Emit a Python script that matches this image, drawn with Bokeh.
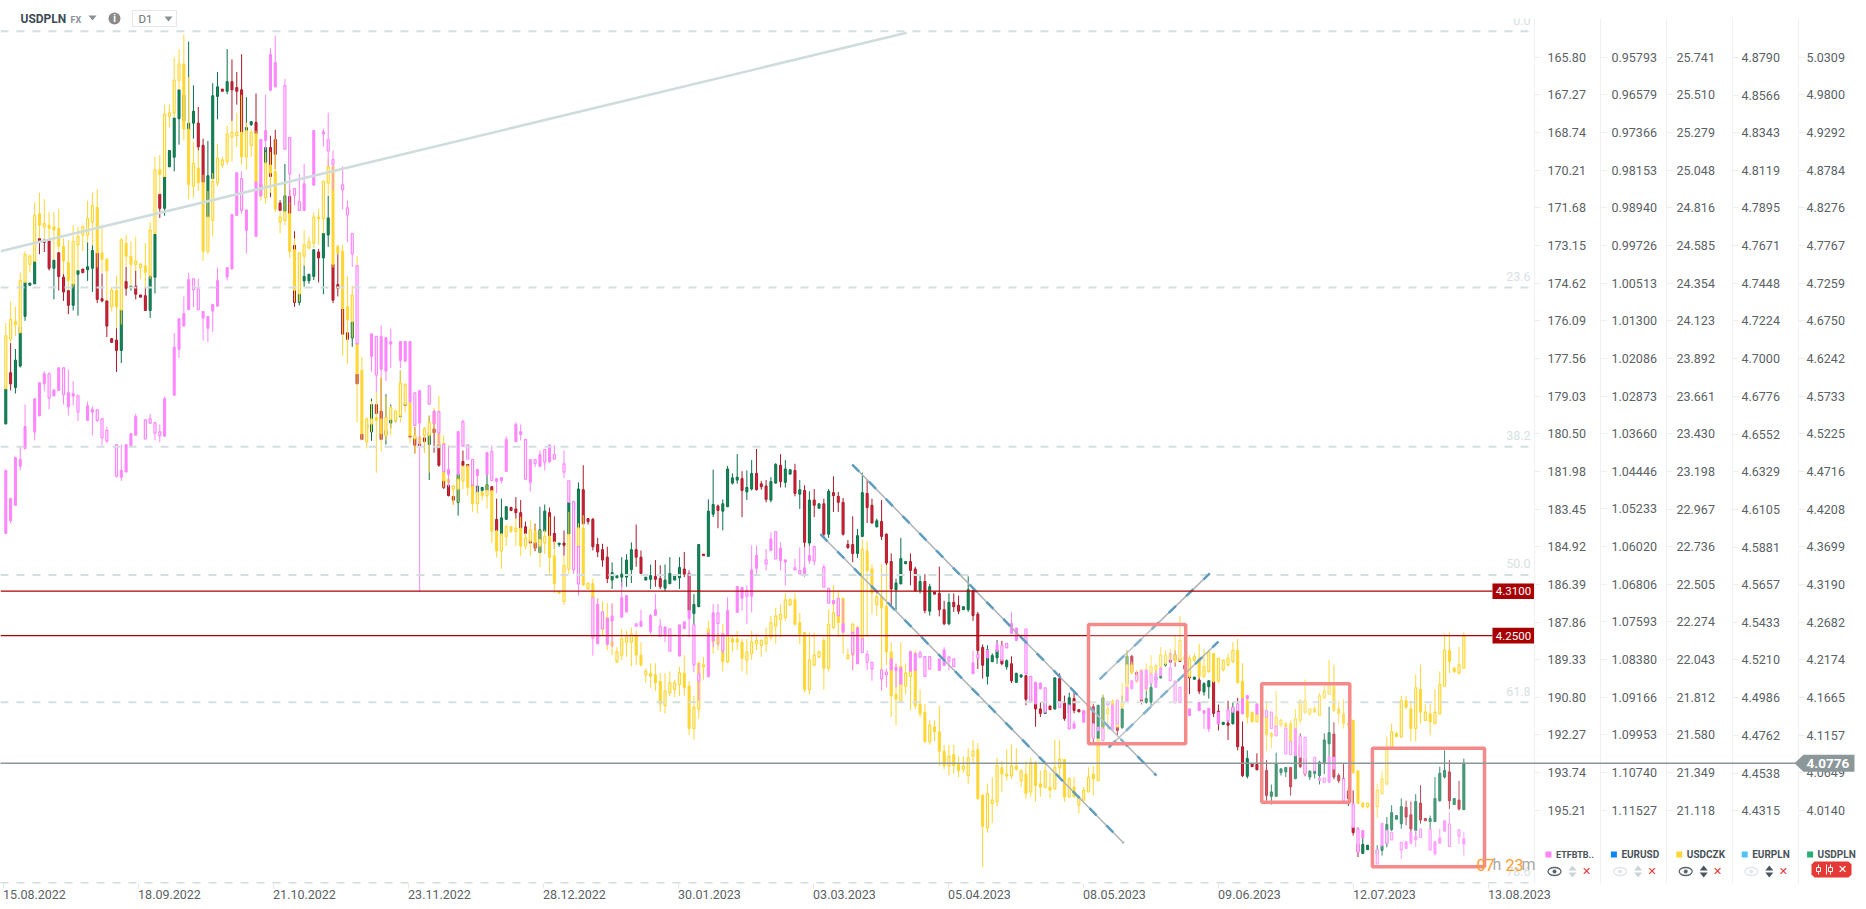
from bokeh.plotting import figure
from bokeh.embed import file_html
from bokeh.resources import INLINE
from bokeh.models import Range1d, LinearAxis, FixedTicker, NumeralTickFormatter
from bokeh.core.properties import value

etf_ticks=[165.80,167.27,168.74,170.21,171.68,173.15,174.62,176.09,177.56,179.03,180.50,181.98,183.45,184.92,186.39,187.86,189.33,190.80,192.27,193.74,195.21]
eurusd_ticks=[0.95793,0.96579,0.97366,0.98153,0.98940,0.99726,1.00513,1.01300,1.02086,1.02873,1.03660,1.04446,1.05233,1.06020,1.06806,1.07593,1.08380,1.09166,1.09953,1.10740,1.11527]
czk_ticks=[25.741,25.510,25.279,25.048,24.816,24.585,24.354,24.123,23.892,23.661,23.430,23.198,22.967,22.736,22.505,22.274,22.043,21.812,21.580,21.349,21.118]
eurpln_ticks=[4.8790,4.8566,4.8343,4.8119,4.7895,4.7671,4.7448,4.7224,4.7000,4.6776,4.6552,4.6329,4.6105,4.5881,4.5657,4.5433,4.5210,4.4986,4.4762,4.4538,4.4315]
usdpln_ticks=[5.0309,4.9800,4.9292,4.8784,4.8276,4.7767,4.7259,4.6750,4.6242,4.5733,4.5225,4.4716,4.4208,4.3699,4.3190,4.2682,4.2174,4.1665,4.1157,4.0649,4.0140]
date_labels=["15.08.2022","18.09.2022","21.10.2022","23.11.2022","28.12.2022","30.01.2023","03.03.2023","05.04.2023","08.05.2023","09.06.2023","12.07.2023","13.08.2023"]

# open, high, low, close, per daily candle
usdpln_rows=[
(4.536,4.590,4.535,4.583),(4.605,4.645,4.581,4.590),(4.585,4.637,4.577,4.622),(4.614,4.669,4.612,4.667),(4.681,4.729,4.675,4.727),(4.723,4.726,4.723,4.726),(4.725,4.755,4.725,4.755),(4.786,4.786,4.765,4.781),(4.784,4.786,4.768,4.781),(4.783,4.783,4.743,4.746),
(4.746,4.757,4.704,4.757),(4.767,4.767,4.716,4.735),(4.734,4.738,4.702,4.714),(4.716,4.716,4.684,4.696),(4.696,4.725,4.689,4.725),(4.738,4.743,4.682,4.743),(4.745,4.745,4.740,4.740),(4.744,4.781,4.729,4.748),(4.746,4.777,4.714,4.770),(4.767,4.767,4.699,4.704),
(4.705,4.739,4.700,4.702),(4.702,4.702,4.653,4.668),(4.651,4.651,4.646,4.646),(4.649,4.665,4.606,4.635),(4.635,4.690,4.618,4.690),(4.728,4.748,4.709,4.719),(4.720,4.722,4.716,4.722),(4.722,4.743,4.704,4.711),(4.710,4.710,4.707,4.707),(4.709,4.721,4.689,4.689),
(4.689,4.735,4.679,4.735),(4.734,4.792,4.712,4.792),(4.846,4.846,4.814,4.827),(4.827,4.869,4.817,4.869),(4.883,4.905,4.883,4.905),(4.896,4.949,4.877,4.949),(4.948,4.987,4.913,4.987),(4.945,4.985,4.940,4.980),(4.933,5.052,4.919,4.942),(4.942,4.993,4.921,4.958),
(4.942,4.964,4.905,4.910),(4.912,4.921,4.860,4.862),(4.815,4.918,4.815,4.871),(4.867,4.996,4.867,4.979),(4.978,5.011,4.947,4.991),(4.988,4.988,4.985,4.985),(4.985,5.042,4.981,4.998),(4.998,5.028,4.945,4.987),(4.990,5.011,4.967,4.985),(4.987,5.035,4.930,4.930),
(4.931,4.977,4.931,4.936),(4.940,4.944,4.938,4.944),(4.943,4.982,4.928,4.928),(4.859,4.859,4.855,4.856),(4.889,4.909,4.889,4.909),(4.909,4.925,4.842,4.870),(4.920,4.933,4.880,4.900),(4.834,4.838,4.824,4.824),(4.823,4.887,4.823,4.844),(4.843,4.852,4.820,4.820),
(4.777,4.796,4.694,4.700),(4.700,4.711,4.696,4.711),(4.729,4.750,4.721,4.735),(4.729,4.737,4.725,4.738),(4.735,4.771,4.730,4.771),(4.768,4.772,4.727,4.760),(4.760,4.793,4.711,4.793),(4.791,4.844,4.775,4.814),(4.752,4.752,4.699,4.703),(4.724,4.774,4.708,4.719),
(4.691,4.691,4.657,4.657),(4.659,4.659,4.650,4.650),(4.652,4.674,4.640,4.674),(4.603,4.603,4.590,4.590),(4.522,4.522,4.515,4.515),(4.530,4.540,4.525,4.535),(4.525,4.570,4.513,4.562),(4.562,4.562,4.550,4.550),(4.553,4.598,4.515,4.515),(4.521,4.576,4.508,4.527),
(4.537,4.562,4.530,4.541),(4.540,4.548,4.538,4.545),(4.546,4.608,4.545,4.547),(4.563,4.589,4.561,4.561),(4.520,4.520,4.518,4.518),(4.518,4.532,4.496,4.507),(4.509,4.509,4.506,4.506),(4.517,4.529,4.498,4.512),(4.508,4.547,4.460,4.524),(4.529,4.554,4.497,4.524),
(4.508,4.510,4.478,4.480),(4.460,4.460,4.448,4.450),(4.453,4.456,4.438,4.439),(4.438,4.438,4.427,4.433),(4.430,4.468,4.412,4.468),(4.485,4.500,4.478,4.480),(4.481,4.481,4.478,4.478),(4.454,4.454,4.451,4.451),(4.443,4.452,4.441,4.452),(4.446,4.451,4.443,4.450),
(4.446,4.468,4.446,4.454),(4.451,4.452,4.445,4.445),(4.407,4.435,4.392,4.392),(4.388,4.435,4.388,4.409),(4.407,4.425,4.407,4.424),(4.423,4.424,4.418,4.419),(4.421,4.437,4.408,4.416),(4.416,4.433,4.395,4.395),(4.397,4.404,4.383,4.388),(4.379,4.379,4.375,4.375),
(4.376,4.401,4.364,4.368),(4.362,4.424,4.362,4.393),(4.391,4.427,4.391,4.418),(4.416,4.423,4.385,4.385),(4.388,4.411,4.367,4.377),(4.373,4.375,4.370,4.375),(4.375,4.392,4.358,4.372),(4.387,4.430,4.387,4.430),(4.420,4.432,4.410,4.430),(4.396,4.457,4.396,4.448),
(4.447,4.480,4.401,4.401),(4.408,4.408,4.400,4.404),(4.407,4.409,4.365,4.370),(4.373,4.382,4.356,4.363),(4.366,4.374,4.343,4.352),(4.356,4.370,4.321,4.327),(4.325,4.349,4.313,4.335),(4.328,4.331,4.328,4.331),(4.329,4.356,4.316,4.333),(4.329,4.360,4.316,4.352),
(4.339,4.376,4.321,4.366),(4.366,4.400,4.343,4.356),(4.356,4.365,4.334,4.334),(4.325,4.329,4.325,4.329),(4.326,4.346,4.313,4.331),(4.330,4.352,4.316,4.326),(4.327,4.345,4.313,4.316),(4.314,4.346,4.310,4.325),(4.320,4.356,4.320,4.334),(4.325,4.331,4.325,4.331),
(4.328,4.356,4.313,4.342),(4.340,4.363,4.329,4.333),(4.334,4.338,4.284,4.284),(4.280,4.306,4.264,4.292),(4.289,4.373,4.289,4.373),(4.360,4.360,4.358,4.358),(4.357,4.434,4.357,4.418),(4.414,4.474,4.410,4.427),(4.425,4.427,4.395,4.419),(4.418,4.434,4.392,4.428),
(4.424,4.479,4.424,4.475),(4.456,4.469,4.454,4.463),(4.460,4.495,4.455,4.464),(4.462,4.472,4.410,4.446),(4.444,4.473,4.433,4.450),(4.448,4.487,4.446,4.469),(4.469,4.502,4.446,4.447),(4.455,4.459,4.447,4.451),(4.452,4.460,4.430,4.434),(4.433,4.464,4.430,4.458),
(4.456,4.483,4.455,4.481),(4.480,4.495,4.450,4.458),(4.457,4.487,4.450,4.475),(4.468,4.474,4.468,4.474),(4.473,4.482,4.438,4.442),(4.441,4.460,4.421,4.447),(4.446,4.453,4.369,4.376),(4.375,4.445,4.370,4.433),(4.433,4.448,4.410,4.426),(4.422,4.428,4.422,4.428),
(4.428,4.435,4.383,4.387),(4.387,4.448,4.382,4.445),(4.443,4.465,4.417,4.439),(4.438,4.444,4.417,4.430),(4.430,4.436,4.385,4.387),(4.373,4.379,4.367,4.369),(4.373,4.411,4.349,4.361),(4.361,4.394,4.355,4.385),(4.384,4.470,4.383,4.443),(4.442,4.461,4.402,4.423),
(4.426,4.435,4.402,4.402),(4.397,4.408,4.396,4.405),(4.404,4.433,4.379,4.384),(4.387,4.388,4.345,4.348),(4.350,4.361,4.289,4.313),(4.312,4.327,4.284,4.321),(4.320,4.382,4.319,4.354),(4.347,4.350,4.347,4.350),(4.350,4.361,4.318,4.338),(4.340,4.343,4.309,4.311),
(4.311,4.331,4.307,4.323),(4.323,4.333,4.280,4.284),(4.283,4.320,4.277,4.316),(4.309,4.309,4.306,4.306),(4.307,4.343,4.276,4.285),(4.285,4.297,4.264,4.266),(4.266,4.307,4.264,4.295),(4.295,4.307,4.282,4.289),(4.291,4.304,4.279,4.283),(4.285,4.289,4.285,4.289),
(4.285,4.330,4.282,4.312),(4.311,4.312,4.270,4.277),(4.279,4.282,4.205,4.230),(4.234,4.238,4.192,4.210),(4.195,4.237,4.184,4.231),(4.215,4.226,4.214,4.223),(4.220,4.244,4.212,4.231),(4.218,4.243,4.210,4.212),(4.208,4.218,4.204,4.216),(4.212,4.222,4.186,4.189),
(4.187,4.200,4.186,4.199),(4.194,4.197,4.194,4.197),(4.196,4.196,4.156,4.164),(4.164,4.166,4.162,4.163),(4.182,4.182,4.127,4.151),(4.151,4.160,4.140,4.145),(4.145,4.160,4.145,4.160),(4.155,4.155,4.150,4.150),(4.151,4.193,4.150,4.193),(4.192,4.199,4.154,4.154),
(4.159,4.169,4.135,4.138),(4.145,4.173,4.144,4.166),(4.165,4.174,4.145,4.149),(4.150,4.150,4.147,4.147),(4.147,4.147,4.145,4.145),(4.146,4.147,4.146,4.147),(4.154,4.158,4.106,4.113),(4.111,4.156,4.111,4.156),(4.126,4.170,4.118,4.166),(4.160,4.160,4.157,4.157),
(4.156,4.158,4.156,4.158),(4.158,4.163,4.115,4.122),(4.126,4.169,4.124,4.151),(4.185,4.230,4.180,4.222),(4.222,4.224,4.199,4.201),(4.200,4.202,4.187,4.189),(4.203,4.203,4.157,4.160),(4.160,4.203,4.158,4.165),(4.160,4.196,4.153,4.180),(4.190,4.210,4.188,4.194),
(4.193,4.203,4.192,4.195),(4.210,4.221,4.208,4.214),(4.217,4.217,4.214,4.214),(4.224,4.230,4.208,4.217),(4.220,4.222,4.215,4.215),(4.210,4.212,4.205,4.205),(4.196,4.198,4.171,4.193),(4.191,4.194,4.191,4.194),(4.190,4.194,4.171,4.175),(4.174,4.187,4.169,4.185),
(4.181,4.190,4.165,4.189),(4.188,4.188,4.140,4.145),(4.148,4.157,4.122,4.131),(4.130,4.133,4.130,4.133),(4.132,4.162,4.109,4.129),(4.131,4.160,4.130,4.153),(4.148,4.166,4.095,4.100),(4.100,4.134,4.059,4.061),(4.060,4.095,4.057,4.084),(4.077,4.077,4.073,4.073),
(4.076,4.091,4.068,4.069),(4.070,4.070,4.069,4.069),(4.068,4.082,4.027,4.034),(4.033,4.049,4.022,4.039),(4.033,4.092,4.033,4.077),(4.065,4.071,4.061,4.070),(4.066,4.072,4.059,4.072),(4.072,4.072,4.034,4.046),(4.057,4.118,4.056,4.093),(4.102,4.118,4.071,4.073),
(4.084,4.087,4.060,4.063),(4.059,4.068,4.055,4.067),(4.064,4.068,4.057,4.067),(4.061,4.081,4.049,4.079),(4.077,4.118,4.063,4.109),(4.104,4.154,4.070,4.119),(4.117,4.133,4.056,4.059),(4.061,4.064,4.051,4.054),(4.057,4.078,4.045,4.052),(4.040,4.045,4.020,4.030),
(3.992,4.041,3.980,3.984),(3.969,3.991,3.951,3.958),(3.956,3.980,3.955,3.968),(3.961,3.967,3.961,3.967),(3.960,3.965,3.960,3.965),(3.955,3.967,3.953,3.961),(3.960,3.969,3.953,3.967),(3.969,4.005,3.964,3.995),(3.988,4.021,3.986,4.011),(4.002,4.007,4.002,4.007),
(3.996,4.030,3.989,4.019),(4.018,4.027,3.994,4.005),(4.008,4.026,3.982,3.989),(3.987,4.036,3.976,4.026),(4.024,4.048,3.996,4.001),(4.003,4.003,4.000,4.000),(3.999,4.007,3.989,4.003),(3.999,4.059,3.998,4.030),(4.027,4.073,4.026,4.064),(4.059,4.095,4.057,4.068),
(4.066,4.082,4.016,4.027),(4.022,4.030,4.022,4.030),(4.028,4.054,4.014,4.016),(4.015,4.084,4.015,4.078),
]
usdczk_rows=[
(23.71,24.11,23.70,24.03),(24.01,24.24,23.99,24.13),(24.12,24.21,24.03,24.10),(24.05,24.42,24.05,24.37),(24.36,24.55,24.36,24.53),(24.47,24.53,24.42,24.52),(24.49,24.85,24.49,24.77),(24.78,24.91,24.63,24.71),(24.70,24.87,24.63,24.72),(24.71,24.79,24.62,24.69),
(24.70,24.79,24.50,24.68),(24.69,24.81,24.55,24.58),(24.58,24.63,24.41,24.49),(24.48,24.62,24.31,24.37),(24.35,24.71,24.33,24.61),(24.59,24.70,24.43,24.64),(24.65,24.71,24.55,24.70),(24.65,24.86,24.61,24.75),(24.73,24.91,24.59,24.83),(24.82,24.93,24.45,24.54),
(24.54,24.71,24.42,24.50),(24.50,24.51,24.25,24.43),(24.21,24.33,24.18,24.31),(24.31,24.40,24.08,24.21),(24.19,24.63,24.10,24.62),(24.60,24.65,24.46,24.52),(24.52,24.61,24.34,24.47),(24.47,24.64,24.43,24.49),(24.45,24.48,24.38,24.47),(24.46,24.60,24.33,24.42),
(24.40,24.73,24.38,24.68),(24.66,25.13,24.66,25.05),(25.05,25.14,24.90,25.02),(25.01,25.45,25.01,25.39),(25.38,25.45,25.31,25.40),(25.40,25.74,25.37,25.60),(25.60,25.79,25.54,25.70),(25.70,25.88,25.23,25.30),(25.30,25.62,24.87,24.96),(24.95,25.22,24.88,25.09),
(25.06,25.17,24.92,24.97),(24.97,25.02,24.49,24.55),(24.55,24.92,24.53,24.76),(24.74,25.03,24.64,24.98),(24.97,25.21,24.95,25.12),(25.08,25.13,25.06,25.11),(25.10,25.32,25.08,25.27),(25.25,25.35,25.10,25.28),(25.26,25.40,25.19,25.28),(25.28,25.51,25.08,25.13),
(25.13,25.34,25.05,25.29),(25.20,25.30,25.13,25.28),(25.27,25.29,24.93,24.97),(24.96,24.96,24.86,24.89),(24.88,25.16,24.84,25.09),(25.08,25.16,24.91,25.03),(25.04,25.24,24.79,24.81),(24.73,24.80,24.66,24.76),(24.74,24.96,24.71,24.79),(24.78,24.85,24.51,24.55),
(24.56,24.63,24.24,24.31),(24.29,24.54,24.24,24.54),(24.52,24.68,24.46,24.59),(24.57,24.64,24.56,24.61),(24.60,24.79,24.57,24.76),(24.76,24.81,24.59,24.75),(24.75,24.98,24.66,24.98),(24.97,25.12,24.90,25.07),(25.07,25.08,24.45,24.47),(24.58,24.59,24.53,24.54),
(24.55,24.59,23.91,24.20),(24.21,24.40,23.86,24.13),(24.12,24.34,24.02,24.28),(23.99,24.52,23.50,23.80),(23.82,23.90,23.39,23.43),(23.38,23.53,23.34,23.52),(23.49,23.63,23.44,23.52),(23.53,23.69,23.19,23.51),(23.52,23.78,23.32,23.43),(23.42,23.66,23.39,23.53),
(23.52,23.60,23.42,23.59),(23.51,23.57,23.50,23.57),(23.54,23.82,23.50,23.74),(23.61,23.74,23.56,23.73),(23.62,23.62,23.37,23.42),(23.40,23.47,23.31,23.42),(23.41,23.42,23.35,23.37),(23.42,23.47,23.31,23.46),(23.42,23.54,23.19,23.50),(23.56,23.59,23.43,23.49),
(23.43,23.66,23.34,23.36),(23.37,23.42,23.10,23.14),(23.15,23.36,23.11,23.13),(23.09,23.11,22.99,23.11),(23.09,23.18,23.01,23.15),(23.14,23.23,23.09,23.23),(23.23,23.24,23.05,23.10),(23.11,23.12,22.95,23.00),(23.00,23.10,22.94,23.07),(23.07,23.08,23.02,23.05),
(23.05,23.12,22.97,23.08),(23.08,23.08,22.76,22.83),(22.83,22.84,22.67,22.71),(22.71,22.82,22.60,22.81),(22.80,22.87,22.74,22.86),(22.86,22.86,22.82,22.83),(22.83,22.91,22.74,22.85),(22.85,22.92,22.68,22.74),(22.74,22.82,22.72,22.79),(22.77,22.90,22.68,22.84),
(22.83,22.87,22.72,22.76),(22.74,22.84,22.61,22.78),(22.76,22.84,22.69,22.80),(22.80,22.92,22.57,22.67),(22.68,22.77,22.45,22.51),(22.46,22.46,22.45,22.45),(22.40,22.68,22.38,22.62),(22.60,22.95,22.57,22.81),(22.74,22.92,22.58,22.85),(22.73,22.88,22.73,22.85),
(22.85,22.93,22.50,22.50),(22.48,22.52,22.47,22.51),(22.51,22.54,22.42,22.42),(22.38,22.42,22.22,22.24),(22.23,22.40,22.19,22.33),(22.30,22.39,22.10,22.14),(22.13,22.39,22.07,22.15),(22.03,22.12,22.02,22.09),(22.07,22.23,22.04,22.17),(22.15,22.22,22.06,22.18),
(22.15,22.24,22.00,22.20),(22.19,22.22,22.01,22.07),(22.07,22.15,22.00,22.01),(21.95,21.99,21.90,21.97),(21.96,22.02,21.87,21.94),(21.95,22.02,21.85,21.90),(21.91,21.96,21.72,21.77),(21.76,21.96,21.71,21.85),(21.84,21.97,21.82,21.90),(21.86,21.92,21.81,21.90),
(21.89,22.00,21.82,21.96),(21.96,22.07,21.82,21.87),(21.88,21.91,21.58,21.62),(21.62,21.82,21.55,21.75),(21.74,22.03,21.68,22.02),(22.00,22.06,21.92,22.01),(22.21,22.28,22.13,22.23),(22.17,22.22,22.08,22.15),(22.14,22.21,22.10,22.18),(22.19,22.26,21.97,22.03),
(22.03,22.26,22.02,22.19),(22.17,22.19,22.09,22.15),(22.17,22.22,22.10,22.15),(22.15,22.17,21.97,22.05),(22.04,22.17,21.95,22.09),(22.08,22.22,22.04,22.15),(22.14,22.20,22.10,22.16),(22.13,22.17,22.06,22.16),(22.14,22.24,22.09,22.18),(22.18,22.31,22.16,22.27),
(22.25,22.36,22.14,22.31),(22.29,22.38,22.18,22.32),(22.30,22.45,22.28,22.41),(22.38,22.42,22.37,22.41),(22.41,22.45,22.25,22.26),(22.27,22.33,22.14,22.20),(22.21,22.21,21.84,21.86),(21.86,22.21,21.83,22.04),(22.01,22.21,22.00,22.07),(22.06,22.10,22.05,22.09),
(22.16,22.18,21.86,21.99),(21.99,22.35,21.97,22.26),(22.24,22.50,22.23,22.33),(22.42,22.47,22.18,22.27),(22.42,22.42,22.08,22.22),(22.05,22.11,22.04,22.07),(22.07,22.27,21.98,22.26),(22.08,22.25,22.06,22.24),(22.17,22.78,22.17,22.72),(22.71,22.77,22.18,22.59),
(22.60,22.63,22.32,22.45),(22.38,22.47,22.31,22.43),(22.43,22.63,21.85,22.36),(22.37,22.62,22.01,22.09),(22.09,22.15,21.69,21.82),(21.83,22.02,21.64,21.80),(21.79,22.15,21.79,22.00),(21.88,22.02,21.83,21.96),(21.94,22.10,21.73,21.98),(21.99,22.10,21.74,21.76),
(21.77,21.86,21.69,21.71),(21.72,21.77,21.53,21.54),(21.54,21.67,21.52,21.64),(21.63,21.67,21.54,21.60),(21.60,21.76,21.39,21.48),(21.48,21.52,21.37,21.39),(21.39,21.52,21.33,21.45),(21.46,21.52,21.34,21.39),(21.40,21.45,21.32,21.36),(21.37,21.45,21.35,21.39),
(21.33,21.50,21.28,21.44),(21.45,21.55,21.40,21.48),(21.49,21.53,21.18,21.19),(21.21,21.22,20.77,21.02),(21.01,21.28,20.98,21.22),(21.16,21.32,21.04,21.18),(21.17,21.44,21.14,21.39),(21.38,21.42,21.23,21.34),(21.33,21.49,21.30,21.34),(21.33,21.52,21.31,21.39),
(21.39,21.50,21.36,21.37),(21.30,21.37,21.26,21.36),(21.34,21.42,21.19,21.22),(21.23,21.44,21.20,21.41),(21.41,21.42,21.17,21.27),(21.28,21.36,21.20,21.26),(21.26,21.40,21.25,21.36),(21.26,21.35,21.19,21.24),(21.25,21.55,21.24,21.38),(21.38,21.55,21.32,21.43),
(21.43,21.43,21.17,21.20),(21.20,21.32,21.20,21.31),(21.26,21.32,21.20,21.20),(21.15,21.21,21.10,21.20),(21.18,21.26,21.18,21.24),(21.23,21.38,21.23,21.32),(21.34,21.39,21.21,21.31),(21.30,21.56,21.30,21.55),(21.55,21.83,21.54,21.62),(21.71,21.79,21.61,21.74),
(21.79,21.80,21.73,21.74),(21.63,21.80,21.63,21.75),(21.75,21.90,21.74,21.78),(21.79,22.10,21.78,22.01),(22.01,22.03,21.95,21.96),(21.91,21.98,21.90,21.95),(21.98,21.98,21.80,21.80),(21.86,22.02,21.85,21.95),(21.96,22.07,21.95,22.00),(21.98,22.02,21.96,22.00),
(22.00,22.12,21.99,22.07),(22.02,22.10,22.01,22.07),(22.05,22.11,22.04,22.08),(22.07,22.19,22.02,22.03),(22.04,22.31,22.04,22.16),(22.06,22.08,22.04,22.04),(21.94,22.07,21.93,22.05),(22.04,22.08,22.03,22.06),(22.05,22.14,21.93,21.94),(21.94,22.11,21.93,22.00),
(21.97,22.10,21.96,22.09),(22.08,22.08,21.90,21.91),(21.91,22.05,21.90,22.05),(21.98,22.04,21.97,22.04),(22.01,22.08,22.00,22.05),(22.03,22.15,22.02,22.10),(22.10,22.17,21.90,21.90),(21.91,22.02,21.80,21.80),(21.79,21.81,21.65,21.69),(21.72,21.72,21.66,21.66),
(21.66,21.78,21.66,21.71),(21.70,21.78,21.62,21.74),(21.73,21.79,21.48,21.58),(21.59,21.60,21.50,21.57),(21.58,21.85,21.57,21.69),(21.64,21.68,21.63,21.67),(21.65,21.66,21.63,21.63),(21.65,21.67,21.53,21.54),(21.50,21.74,21.50,21.68),(21.67,21.80,21.65,21.79),
(21.72,21.92,21.71,21.79),(21.71,21.74,21.70,21.74),(21.74,21.76,21.72,21.72),(21.70,21.84,21.70,21.82),(21.81,21.88,21.80,21.85),(21.83,22.04,21.83,21.90),(21.88,22.01,21.72,21.73),(21.74,21.79,21.65,21.71),(21.71,21.80,21.62,21.65),(21.65,21.66,21.63,21.64),
(21.67,21.67,21.34,21.35),(21.36,21.36,21.16,21.16),(21.16,21.17,21.13,21.14),(21.14,21.16,21.13,21.16),(21.13,21.15,21.12,21.15),(21.14,21.28,21.07,21.24),(21.22,21.36,21.22,21.31),(21.28,21.57,21.27,21.49),(21.50,21.65,21.49,21.60),(21.59,21.60,21.57,21.57),
(21.57,21.82,21.56,21.79),(21.79,21.82,21.74,21.75),(21.74,21.79,21.54,21.62),(21.62,21.95,21.54,21.87),(21.86,22.01,21.65,21.72),(21.67,21.77,21.67,21.72),(21.71,21.77,21.58,21.66),(21.65,21.86,21.65,21.72),(21.71,21.97,21.71,21.89),(21.88,22.20,21.88,22.10),
(22.10,22.21,21.96,22.03),(21.99,22.00,21.96,21.97),(21.96,22.12,21.95,22.01),(21.99,22.21,21.99,22.19),
]
N_=None
etfbtb_rows=[
(184.40,184.40,181.90,181.94),(183.90,184.00,183.00,183.04),(183.30,183.30,181.40,181.44),(181.77,181.94,181.03,181.50),(181.09,181.09,179.36,180.22),N_,(180.44,180.76,179.14,179.14),(179.81,179.81,178.51,178.51),(178.55,178.84,178.06,178.16),(178.16,179.55,178.10,179.11),
(179.03,179.03,178.79,178.79),(178.81,178.81,177.93,177.93),(177.93,179.36,177.93,178.98),(179.46,179.79,178.00,178.90),(179.03,179.40,178.45,178.94),(179.02,180.01,178.97,179.66),N_,(179.98,179.98,179.24,179.41),(179.66,180.57,179.44,179.55),(179.57,180.05,179.57,179.98),
(179.92,180.96,179.89,180.66),(180.37,180.87,180.24,180.79),N_,(180.93,182.22,180.93,182.16),(182.20,182.35,180.93,181.94),(182.00,182.00,180.93,180.93),(181.00,181.00,180.47,180.50),(180.56,180.56,179.72,179.83),N_,(179.96,180.71,179.96,180.71),
(179.92,180.11,179.72,180.09),(180.07,180.76,180.05,180.48),(180.43,180.83,180.14,180.58),(180.60,180.60,179.05,179.14),N_,(179.00,179.00,176.57,177.12),(177.21,177.55,176.01,176.01),(176.30,176.30,175.14,175.82),(175.66,175.66,174.22,174.49),(174.45,175.56,174.45,174.88),
(174.84,175.66,174.45,175.66),(175.99,176.86,175.73,175.73),(176.38,176.92,175.92,175.92),(175.71,176.53,175.45,175.45),(175.52,175.52,174.02,174.52),N_,(174.38,174.52,174.02,174.02),(174.07,174.07,171.94,171.94),(171.98,171.98,170.31,170.31),(170.54,171.91,170.26,171.78),
(172.56,173.45,171.76,171.76),N_,(172.80,172.80,170.67,170.67),(171.22,171.22,169.01,169.01),(169.05,169.44,167.25,168.66),(167.09,167.09,165.43,165.69),(166.96,166.96,164.95,166.00),N_,(166.91,169.39,166.64,169.39),(168.94,171.52,168.94,170.35),
(170.93,171.59,170.93,171.18),(171.44,171.78,170.35,171.78),(171.78,171.78,169.96,170.74),N_,(170.80,170.80,168.66,168.66),N_,(168.80,169.28,168.59,168.71),(169.02,170.06,167.97,169.46),(169.80,171.00,169.44,169.98),N_,
(170.78,171.74,170.06,170.97),(171.68,173.02,171.39,171.96),(172.69,173.99,172.69,173.47),(173.94,176.99,173.94,176.99),N_,N_,(177.48,178.07,176.60,176.60),(176.70,178.88,176.70,178.21),(177.99,178.29,176.27,176.70),(178.06,178.45,176.75,176.75),
(177.00,177.94,176.40,176.91),N_,(177.64,177.94,176.90,176.90),(177.67,177.67,176.90,176.90),(179.27,179.27,176.90,176.90),(178.91,180.18,178.91,180.18),(180.09,186.69,178.82,178.82),N_,(178.63,179.35,178.63,179.35),(180.12,180.12,179.62,179.62),
(179.64,180.94,179.64,180.47),(180.92,181.98,180.92,181.98),(182.10,182.59,180.99,181.90),N_,(182.10,182.10,180.42,180.42),(180.03,181.00,179.96,180.99),(180.94,181.50,180.94,181.50),(181.51,182.50,181.51,182.50),(182.14,182.79,181.90,181.90),N_,
(182.10,182.10,181.24,181.24),(181.20,182.33,180.96,182.33),(182.37,182.83,182.25,182.25),(182.33,182.44,182.21,182.21),(181.98,181.98,180.61,180.73),N_,(180.81,180.81,180.05,180.14),(180.53,180.77,180.14,180.42),(180.73,182.28,180.70,182.28),(182.40,182.76,181.51,181.51),
(181.51,181.81,181.51,181.67),(181.78,181.78,181.16,181.32),(181.12,181.94,181.12,181.61),(181.61,181.61,180.94,180.94),(181.32,181.50,180.96,181.50),N_,(181.68,182.24,181.16,182.00),(182.34,183.18,182.34,183.18),(183.16,185.98,183.16,185.81),(184.91,186.82,184.91,186.37),
N_,N_,(186.91,189.17,186.91,188.48),(188.71,188.71,186.95,187.17),(187.46,188.12,187.46,188.12),(188.74,188.74,187.71,187.71),(187.82,188.84,187.15,187.62),N_,(187.67,187.67,186.30,186.91),(187.47,187.47,186.82,186.82),
N_,(187.93,188.02,187.93,188.02),(188.03,188.03,187.38,187.84),N_,(188.22,188.32,187.54,187.60),(187.60,187.60,186.76,187.38),(188.02,188.41,187.73,188.41),(188.39,188.65,188.05,188.05),(188.12,189.00,188.12,189.00),N_,
(189.19,189.19,187.97,187.97),(188.12,188.12,187.85,187.85),(187.73,188.45,185.85,187.41),(187.97,189.82,187.97,189.53),(189.88,190.93,189.49,190.17),N_,(190.00,190.00,188.30,188.30),(188.58,188.84,187.15,187.50),(187.50,188.78,187.15,187.91),(188.32,189.10,188.32,188.97),
(188.36,188.36,186.89,187.41),N_,(187.48,187.48,186.47,186.47),(186.93,187.41,186.50,186.50),(186.63,187.93,186.43,186.85),(186.85,187.48,184.87,185.82),(185.76,185.98,184.87,185.26),N_,(185.43,185.85,185.00,185.59),(185.07,185.07,184.35,184.61),
(184.33,185.39,184.33,185.39),(185.46,185.85,184.74,184.98),(185.52,186.43,185.43,185.43),N_,(185.74,185.82,185.39,185.82),(185.85,185.98,184.94,185.98),(185.98,186.11,184.94,185.74),(185.46,185.59,184.87,185.26),(184.91,185.65,184.87,185.48),N_,
(185.72,186.50,185.61,186.50),(186.54,187.12,186.54,187.12),(187.15,187.15,187.02,187.02),(186.93,187.61,186.93,187.61),(188.26,188.26,186.99,187.93),N_,(188.26,189.75,188.26,189.10),(189.49,189.49,188.09,188.09),(188.52,189.04,188.52,189.04),(189.13,189.75,188.97,189.43),
(189.43,190.15,189.43,189.69),N_,(189.73,190.54,189.73,190.08),(189.81,190.41,189.69,189.91),(189.73,189.73,189.30,189.30),(189.75,190.41,189.49,189.62),(190.28,190.28,189.65,189.65),N_,(189.78,189.78,189.01,189.01),(189.75,189.75,189.08,189.08),
(189.06,189.23,188.97,189.23),(189.21,189.98,189.21,189.98),(189.21,189.70,189.21,189.70),N_,(189.75,189.75,189.30,189.30),(189.56,189.56,188.84,188.95),(189.23,189.75,189.17,189.39),(189.30,189.60,189.30,189.60),N_,N_,
N_,(189.88,189.88,188.97,189.45),(189.13,189.26,189.13,189.26),N_,(189.26,189.26,188.95,188.95),N_,(189.00,189.00,188.58,188.74),(188.78,189.36,188.78,189.36),(188.69,188.87,188.69,188.87),(188.30,188.30,187.48,187.91),
(188.58,188.58,188.09,188.09),N_,(188.13,189.88,188.13,189.88),(189.98,190.95,189.98,190.95),(191.06,191.06,190.21,190.21),(190.47,190.47,190.24,190.24),(190.43,191.38,190.43,191.38),N_,N_,(190.99,191.19,190.99,191.19),
N_,(191.10,192.03,191.10,192.03),(192.01,192.01,191.71,191.84),N_,(191.77,191.77,191.32,191.32),N_,(191.84,192.40,191.84,192.40),(192.10,192.10,191.97,191.97),(192.01,192.49,192.01,192.49),(191.00,191.10,191.00,191.10),
(192.10,192.10,191.10,191.10),(190.93,191.84,190.93,191.84),N_,(191.00,191.00,190.41,190.41),(190.47,190.47,190.15,190.15),(189.95,190.15,189.82,190.15),(190.86,190.86,189.76,189.76),(190.47,190.47,189.73,189.73),(189.89,190.25,189.89,190.25),(190.41,190.41,189.86,189.86),
(189.95,189.95,189.65,189.65),N_,(189.65,190.15,189.04,190.15),(190.17,191.06,190.17,191.00),(190.41,191.00,190.41,191.00),N_,(191.51,191.51,191.25,191.25),N_,(191.32,191.32,191.00,191.00),(191.42,192.03,191.32,191.32),
(192.03,192.16,191.23,191.23),N_,(191.84,191.84,191.38,191.38),N_,(191.29,191.71,191.29,191.71),(191.19,191.38,191.19,191.38),(191.06,191.32,191.06,191.32),(191.45,191.45,190.86,190.86),(190.86,190.86,190.73,190.73),N_,
(191.45,191.45,191.06,191.06),N_,(191.32,191.55,191.32,191.55),(191.38,192.01,191.38,192.01),(191.93,192.30,191.93,192.30),N_,(192.00,193.01,192.00,193.01),(192.53,193.04,192.53,193.04),(193.08,193.08,192.03,192.03),(192.33,193.14,192.33,193.14),
(192.36,193.79,192.36,193.79),N_,(193.14,193.66,193.14,193.66),(194.05,194.05,193.95,193.95),(193.95,194.12,193.95,194.12),(194.12,194.12,193.12,193.12),(193.60,193.60,193.14,193.14),N_,(193.99,194.83,193.99,194.83),N_,
(194.96,195.88,194.96,195.88),(195.94,196.85,195.94,196.85),(196.29,196.29,196.00,196.00),N_,N_,(196.75,197.31,196.75,197.31),(196.60,196.60,195.72,195.72),(196.00,196.50,196.00,196.50),(196.07,196.37,196.07,196.37),N_,
(196.46,197.11,196.46,196.76),(196.70,196.70,196.44,196.44),(196.50,196.50,196.07,196.07),(196.37,196.65,195.98,196.24),(195.95,196.27,195.95,196.27),N_,(195.94,196.76,195.94,196.76),(196.92,196.98,196.44,196.44),(196.50,196.50,195.94,196.29),(196.03,196.03,195.62,195.62),
(195.75,196.62,195.29,196.62),N_,(195.98,196.53,195.98,196.22),(196.53,196.98,196.07,196.33),
]
fib_levels=[("0.0",5.066),("23.6",4.720),("38.2",4.505),("50.0",4.332),("61.8",4.160),("78.6",3.916)]
price_lines=[4.31,4.25]
last_price=4.0776
trend_x=[-1.1,187.2]; trend_y=[4.769,5.064]
channels=[((175.9,239.1),(4.481,4.061)),((169.3,232.3),(4.387,3.970)),((227.3,250.2),(4.191,4.334)),((229.2,252.0),(4.099,4.242))]
boxes=[(225.0,245.2,4.265,4.104),(261.0,279.3,4.185,4.025),(284.0,307.3,4.098,3.938)]
legend_names=["ETFBTB..","EURUSD","USDCZK","EURPLN","USDPLN"]
legend_colors=["#ff85f8","#0a84ff","#fdd835","#4fc3f7","#27ae74"]

FW,FH,TOP=1534,865,18
STEP=4.812; X0=5.3
def sx(px): return (px-X0)/STEP
def sy(py): return 5.0309-(py-56.8)*0.0013503

p=figure(frame_width=FW,frame_height=FH,min_border_top=TOP,min_border_left=0,min_border_right=0,min_border_bottom=0,
         x_range=Range1d(sx(0),sx(FW)),y_range=Range1d(sy(883),sy(18)),output_backend="svg",toolbar_location=None,
         x_axis_location="below",y_axis_location=None)
p.grid.visible=False; p.outline_line_color=None; p.background_fill_color="white"
ax=p.xaxis[0]
tick_pos=[sx(34+135.0*k) for k in range(12)]
ax.ticker=FixedTicker(ticks=tick_pos)
ax.major_label_overrides={t:date_labels[k] for k,t in enumerate(tick_pos)}
ax.major_tick_line_color=None; ax.minor_tick_line_color=None; ax.axis_line_color=None
ax.major_label_text_font="Roboto"; ax.major_label_text_font_size="12.5px"; ax.major_label_text_color="#5a6266"; ax.major_label_standoff=0

p.extra_y_ranges={"etf":Range1d(165.80+(883-56.8)*0.03906,165.80+(18-56.8)*0.03906),
 "eurusd":Range1d(0.95793+(883-56.8)*0.000209,0.95793+(18-56.8)*0.000209),
 "czk":Range1d(25.741-(883-56.8)*0.00614,25.741-(18-56.8)*0.00614),
 "eurpln":Range1d(4.8790-(883-56.8)*0.000594,4.8790-(18-56.8)*0.000594)}
def add_axis(name,ticks,fmt,standoff,pad):
    a=LinearAxis(y_range_name=name,ticker=FixedTicker(ticks=ticks),formatter=NumeralTickFormatter(format=fmt))
    a.major_tick_in=0; a.major_tick_out=6; a.minor_tick_line_color=None; a.major_tick_line_color="#eeeeee"
    a.axis_line_color="#f0f0f0"; a.major_label_standoff=standoff
    a.major_label_text_font="Roboto"; a.major_label_text_font_size="12.5px"; a.major_label_text_color="#5a6266"
    a.axis_label=" "; a.axis_label_text_font_size="1px"; a.axis_label_standoff=pad
    p.add_layout(a,"right")
add_axis("etf",etf_ticks,"0.00",7,7)
add_axis("eurusd",eurusd_ticks,"0.00000",5,2)
add_axis("czk",czk_ticks,"0.000",4,10)
add_axis("eurpln",eurpln_ticks,"0.0000",3,11)
add_axis("default",usdpln_ticks,"0.0000",2,12)

def columns(rows):
    xs=[i for i,r in enumerate(rows) if r is not None]
    rr=[r for r in rows if r is not None]
    return xs,[r[0] for r in rr],[r[1] for r in rr],[r[2] for r in rr],[r[3] for r in rr]
BW=0.42
xs,o,h,l,c=columns(usdpln_rows)
for up,fill,line in ((True,"#118a58","#0c7049"),(False,"#dc1f36","#a81b2a")):
    idx=[j for j in range(len(xs)) if (c[j]>=o[j])==up]
    p.segment([xs[j] for j in idx],[h[j] for j in idx],[xs[j] for j in idx],[l[j] for j in idx],line_color=line,line_width=1)
    p.vbar([xs[j] for j in idx],BW,[max(o[j],c[j]) for j in idx],[min(o[j],c[j]) for j in idx],fill_color=fill,line_color=line,line_width=1)
# USDCZK / ETFBTB: hollow candle when the close is above the open
def hollow_series(rows,colour,rng):
    xs,o,h,l,c=columns(rows)
    p.segment(xs,h,xs,l,line_color=colour,line_width=1,y_range_name=rng)
    up=[j for j in range(len(xs)) if c[j]>=o[j]]; dn=[j for j in range(len(xs)) if c[j]<o[j]]
    p.vbar([xs[j] for j in up],BW,[c[j] for j in up],[o[j] for j in up],fill_color="white",line_color=colour,line_width=1.2,y_range_name=rng)
    p.vbar([xs[j] for j in dn],BW,[o[j] for j in dn],[c[j] for j in dn],fill_color=colour,line_color=colour,line_width=1,y_range_name=rng)
hollow_series(usdczk_rows,"#ffd633","czk")
hollow_series(etfbtb_rows,"#ff85ff","etf")

FIB_END=sx(1530)
for name,lv in fib_levels:
    p.segment([sx(0)],[lv],[FIB_END],[lv],line_color="#d3dedf",line_width=2,line_dash="8 8")
    p.text([FIB_END],[lv+0.009],text=[name],text_align="right",text_baseline="bottom",text_color="#d8dfe2",text_font=value("Roboto"),text_font_size="12.5px")
p.line(trend_x,trend_y,line_color="#cfdcdc",line_width=2.5)
for cx,cy in channels:
    p.line(list(cx),list(cy),line_color="#adb3b5",line_width=1.5)
    p.line(list(cx),list(cy),line_color="#5f9dbf",line_width=2.5,line_dash="10 14")
for lv in price_lines:
    p.segment([sx(0)],[lv],[sx(1492)],[lv],line_color="#b00000",line_width=1.2)
    p.quad(left=[sx(1492)],right=[sx(1534)],top=[lv+0.0105],bottom=[lv-0.0105],fill_color="#a80000",line_color=None)
    p.text([sx(1513)],[lv],text=[f"{lv:.4f}"],text_align="center",text_baseline="middle",text_color="white",text_font=value("Roboto"),text_font_size="11.5px")
for x1,x2,t,b in boxes:
    p.quad(left=[x1],right=[x2],top=[t],bottom=[b],fill_color="white",fill_alpha=0.22,line_color="#f58a8a",line_width=3.5)
p.segment([sx(0)],[last_price],[sx(1795)],[last_price],line_color="#8b9799",line_width=1.4,level="overlay")
p.patch([sx(1794),sx(1803),sx(1854),sx(1854),sx(1803)],[last_price,last_price+0.0115,last_price+0.0115,last_price-0.0115,last_price-0.0115],fill_color="#8b9799",line_color=None,level="overlay")
p.text([sx(1806)],[last_price],text=[f"{last_price:.4f}"],text_baseline="middle",text_color="white",text_font=value("Roboto"),text_font_size="13.5px",text_font_style="bold",level="overlay")
for px,t,col in ((1476,"07","#ff9a2e"),(1492,"h","#a9a9a9"),(1505,"23","#ff9a2e"),(1521,"m","#a9a9a9")):
    p.text([sx(px)],[sy(864)],text=[t],text_baseline="middle",text_color=col,text_font=value("Roboto"),text_font_size="16px",level="overlay")
tk=[sx(3+135.0*k) for k in range(12)]
p.segment(tk,[sy(883)]*12,tk,[sy(888)]*12,line_color="#e8e8e8",level="overlay")

def shape(px,py,colour,line=None):
    p.patch([sx(a) for a in px],[sy(b) for b in py],fill_color=colour,line_color=line,level="overlay")

p.text([sx(20)],[sy(18)],text=["USDPLN"],text_baseline="middle",text_color="#404c55",text_font=value("Roboto"),text_font_size="12px",text_font_style="bold",level="overlay")
p.text([sx(70)],[sy(19)],text=["FX"],text_baseline="middle",text_color="#8a9094",text_font=value("Roboto"),text_font_size="9px",text_font_style="bold",level="overlay")
shape([88,96,92],[15,15,20],"#8a9094")
p.ellipse([sx(114)],[sy(18)],width=12/STEP,height=12*0.0013503,fill_color="#8a8a8a",line_color=None,level="overlay")
p.text([sx(114)],[sy(18)],text=["i"],text_align="center",text_baseline="middle",text_color="white",text_font=value("Roboto"),text_font_size="10px",text_font_style="bold",level="overlay")
shape([132,176,176,132],[10,10,26,26],"white","#e4e6e7")
p.text([sx(138)],[sy(18)],text=["D1"],text_baseline="middle",text_color="#6b7377",text_font=value("Roboto"),text_font_size="11.5px",level="overlay")
shape([164,172,168],[16,16,21],"#8a9094")

for k,(nm,col) in enumerate(zip(legend_names,legend_colors)):
    sq=1548+65.4*k
    shape([sq-3,sq+3,sq+3,sq-3],[851,851,857,857],col)
    p.text([sx(sq+7.5)],[sy(854)],text=[nm],text_baseline="middle",text_color="#4a5358",text_font=value("Roboto"),text_font_size="9px" if k==0 else "10px",text_font_style="bold",level="overlay")
    if k<4:
        on=k in (0,2)
        ex=1554+65.6*k
        eye="#5b666d" if on else "#dfe5e8"
        arrow="#4a5560" if k>=2 else "#c9d3d6"
        p.ellipse([sx(ex)],[sy(871)],width=13/STEP,height=8*0.0013503,fill_color=None,line_color=eye,line_width=1.3,level="overlay")
        p.ellipse([sx(ex)],[sy(871)],width=4/STEP,height=4*0.0013503,fill_color=eye,line_color=None,level="overlay")
        ax0=ex+18
        shape([ax0-4,ax0+4,ax0],[870,870,865],arrow)
        shape([ax0-4,ax0+4,ax0],[872,872,877],arrow)
        p.text([sx(ex+32)],[sy(871)],text=["✕"],text_align="center",text_baseline="middle",text_color="#e53935",text_font=value("DejaVu Sans"),text_font_size="11px",text_font_style="bold",level="overlay")
shape([1814,1848,1851,1851,1848,1814,1811,1811],[861,861,864,874,877,877,874,864],"#e53935")
p.segment([sx(1818),sx(1826),sx(1830)],[sy(864)]*3,[sx(1818),sx(1826),sx(1830)],[sy(874)]*3,line_color="white",line_width=1,level="overlay")
for bx in (1818,1830):
    shape([bx-2,bx+2,bx+2,bx-2],[867,867,871,871],"#e53935","white")
p.text([sx(1842)],[sy(869)],text=["✕"],text_align="center",text_baseline="middle",text_color="white",text_font=value("DejaVu Sans"),text_font_size="11px",text_font_style="bold",level="overlay")

open("out.html","w").write(file_html(p,INLINE))
